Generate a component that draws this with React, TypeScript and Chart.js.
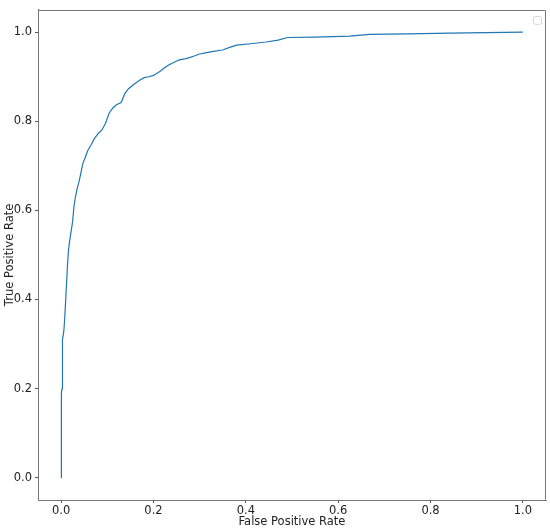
import React, { useEffect, useRef } from "react";
import { Chart, registerables } from "chart.js";

Chart.register(...registerables);

const fpr = [0, 0, 0.001, 0.001, 0.002, 0.002, 0.004, 0.006, 0.008, 0.010, 0.012, 0.014, 0.016, 0.019, 0.022, 0.025, 0.028, 0.031, 0.035, 0.039, 0.043, 0.047, 0.052, 0.058, 0.064, 0.072, 0.08, 0.088, 0.096, 0.104, 0.112, 0.12, 0.13, 0.138, 0.146, 0.158, 0.17, 0.18, 0.19, 0.2, 0.213, 0.224, 0.234, 0.246, 0.256, 0.268, 0.278, 0.29, 0.3, 0.315, 0.33, 0.35, 0.365, 0.38, 0.41, 0.444, 0.47, 0.49, 0.55, 0.625, 0.668, 0.75, 0.842, 0.92, 1.0];
const tpr = [0, 0.05, 0.055, 0.19, 0.2, 0.3, 0.31, 0.33, 0.36, 0.4, 0.44, 0.48, 0.51, 0.535, 0.555, 0.575, 0.61, 0.63, 0.65, 0.665, 0.685, 0.705, 0.718, 0.735, 0.745, 0.761, 0.772, 0.78, 0.795, 0.818, 0.83, 0.837, 0.842, 0.862, 0.873, 0.883, 0.892, 0.898, 0.9, 0.903, 0.911, 0.92, 0.927, 0.933, 0.938, 0.94, 0.943, 0.947, 0.951, 0.954, 0.957, 0.96, 0.966, 0.971, 0.974, 0.978, 0.982, 0.988, 0.989, 0.991, 0.995, 0.996, 0.998, 0.999, 1.0];
const tickValues = [0, 0.2, 0.4, 0.6, 0.8, 1.0];
const xTitle = "False Positive Rate";
const yTitle = "True Positive Rate";

const FONT = "'DejaVu Sans', sans-serif";

const frameAndLegend = {
  id: "frameAndLegend",
  afterDraw(chart: any) {
    const { ctx, chartArea } = chart;
    ctx.save();
    ctx.strokeStyle = "#777";
    ctx.lineWidth = 1;
    ctx.beginPath();
    ctx.moveTo(Math.round(chartArea.left) + 0.5, Math.round(chartArea.top) + 0.5);
    ctx.lineTo(Math.round(chartArea.right) - 0.5, Math.round(chartArea.top) + 0.5);
    ctx.lineTo(Math.round(chartArea.right) - 0.5, Math.round(chartArea.bottom) - 0.5);
    ctx.stroke();
    const s = 8;
    const x = chartArea.right - 13;
    const y = chartArea.top + 6;
    ctx.fillStyle = "rgba(255,255,255,0.8)";
    ctx.strokeStyle = "#d6d6d6";
    ctx.beginPath();
    (ctx as any).roundRect(x + 0.5, y + 0.5, s, s, 2);
    ctx.fill();
    ctx.stroke();
    ctx.restore();
  },
};

export default function App() {
  const ref = useRef<HTMLCanvasElement>(null);
  useEffect(() => {
    document.body.style.margin = "0";
    const pts = fpr.map((x, i) => ({ x, y: tpr[i] }));
    const chart = new Chart(ref.current!, {
      type: "line",
      data: {
        datasets: [
          {
            data: pts,
            borderColor: "#1f77b4",
            borderWidth: 1.2,
            pointRadius: 0,
            fill: false,
            tension: 0,
          },
        ],
      },
      options: {
        animation: false,
        responsive: false,
        maintainAspectRatio: false,
        layout: { padding: { top: 3, right: 4, left: 0, bottom: 0 } },
        plugins: { legend: { display: false }, tooltip: { enabled: false } },
        scales: {
          x: {
            type: "linear",
            min: -0.05,
            max: 1.05,
            afterBuildTicks: (s: any) => {
              s.ticks = tickValues.map((v) => ({ value: v }));
            },
            afterFit: (s: any) => {
              s.height = 29;
            },
            grid: { drawOnChartArea: false, tickLength: 3, color: "#555", tickColor: "#555" },
            border: { color: "#777", width: 1 },
            ticks: {
              font: { family: FONT, size: 11.5 },
              color: "#222",
              padding: 1,
              maxRotation: 0,
              callback: (v: any) => Number(v).toFixed(1),
            },
            title: {
              display: true,
              text: xTitle,
              font: { family: FONT, size: 11.5 },
              color: "#222",
              padding: { top: 0, bottom: 0 },
            },
          },
          y: {
            type: "linear",
            min: -0.05,
            max: 1.05,
            afterBuildTicks: (s: any) => {
              s.ticks = tickValues.map((v) => ({ value: v }));
            },
            afterFit: (s: any) => {
              s.width = 38;
            },
            grid: { drawOnChartArea: false, tickLength: 3, color: "#555", tickColor: "#555" },
            border: { color: "#777", width: 1 },
            ticks: {
              font: { family: FONT, size: 11.5 },
              color: "#222",
              padding: 3,
              callback: (v: any) => Number(v).toFixed(1),
            },
            title: {
              display: true,
              text: yTitle,
              font: { family: FONT, size: 11.5 },
              color: "#222",
              padding: { top: 3, bottom: 0 },
            },
          },
        },
      },
      plugins: [frameAndLegend],
    });
    return () => chart.destroy();
  }, []);
  return (
    <div style={{ position: "absolute", left: 0, top: 0, width: 550, height: 529, background: "#fff" }}>
      <canvas ref={ref} width={550} height={529} style={{ width: 550, height: 529 }} />
    </div>
  );
}
